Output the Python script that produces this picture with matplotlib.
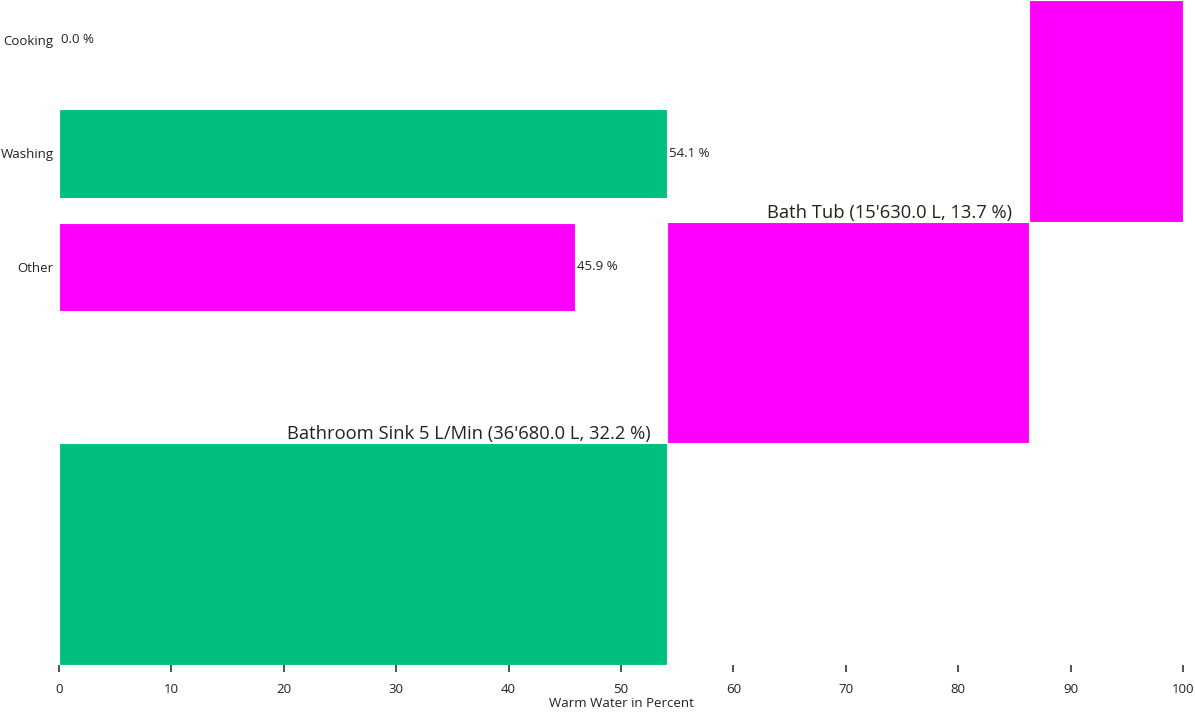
import numpy as np
import matplotlib
matplotlib.use("Agg")
import matplotlib.pyplot as plt

plt.rcParams['font.family'] = ['Open Sans', 'DejaVu Sans']

# category bars
categories = ["Cooking", "Washing", "Other"]
shares = [0.0, 54.1, 45.9]
bar_colors = ["#00BF7F", "#00BF7F", "#FF00FF"]

# stepped blocks (bottom to top)
block_left = [0.0, 54.1, 86.3]
block_right = [54.1, 86.3, 100.0]
block_colors = ["#00BF7F", "#FF00FF", "#FF00FF"]
block_labels = ["Bathroom Sink 5 L/Min (36'680.0 L, 32.2 %)",
                "Bath Tub (15'630.0 L, 13.7 %)",
                ""]

x_ticks = [0, 10, 20, 30, 40, 50, 60, 70, 80, 90, 100]

fig = plt.figure(figsize=(11.95, 7.15), dpi=100)
ax = fig.add_axes([59/1195, 50/715, 1124/1195, 665/715])
ax2 = ax.twinx()

# blocks on a 0..3 scale
widths = np.array(block_right) - np.array(block_left)
ys = np.arange(len(block_left)) + 0.5
ax2.barh(ys, widths, left=block_left, height=1.0, color=block_colors,
         edgecolor="white", linewidth=0.8)
for y, r, lab in zip(ys, block_right, block_labels):
    if lab:
        ax2.annotate(lab, (r, y + 0.5), xytext=(-12, 0), textcoords="offset points",
                     ha="right", va="bottom", fontsize=13.2, color="#222222")
ax2.set_ylim(0, 3)
ax2.set_yticks([])

# category bars
pos = np.arange(len(categories))
ax.barh(pos, shares, height=0.78, color=bar_colors, edgecolor="white", linewidth=0.8)
for p, v in zip(pos, shares):
    ax.annotate(f"{v:.1f} %", (v, p), xytext=(1.5, 0), textcoords="offset points",
                ha="left", va="center", fontsize=9.5, color="#222222")
ax.set_yticks(pos)
ax.set_yticklabels(categories, fontsize=9.5, color="#222222")
ax.tick_params(axis="y", length=0, pad=4)
ax.set_ylim(5.507, -0.352)
ax.set_zorder(ax2.get_zorder() + 1)
ax.patch.set_visible(False)

ax.set_xlim(0, 100)
ax.set_xticks(x_ticks)
ax.tick_params(axis="x", length=5, width=1.2, color="#333333", pad=8,
               labelsize=9.5, labelcolor="#222222")
ax.set_xlabel("Warm Water in Percent", fontsize=9.5, color="#222222", labelpad=1)

for a in (ax, ax2):
    for s in a.spines.values():
        s.set_visible(False)

fig.savefig("out.png", dpi=100)
